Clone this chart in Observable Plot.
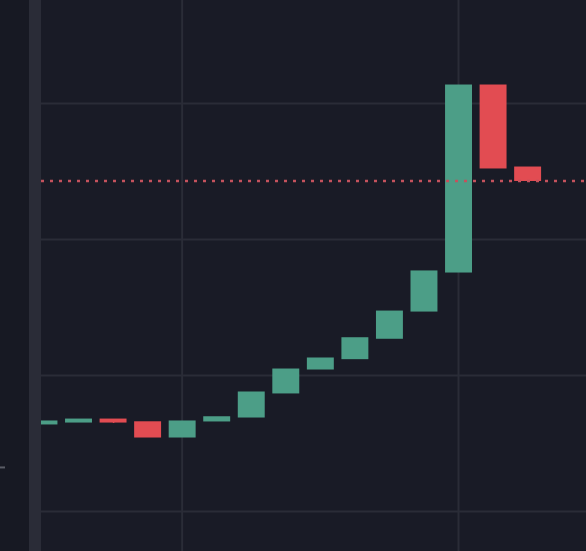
<!DOCTYPE html>
<html>
<head>
<meta charset="utf-8">
<script src="https://cdn.jsdelivr.net/npm/d3@7"></script>
<script src="https://cdn.jsdelivr.net/npm/@observablehq/plot@0.6"></script>
<style>
  html, body { margin: 0; padding: 0; background: #191b26; }
  #chart svg { display: block; }
</style>
</head>
<body>
<div id="chart"></div>
<script>
// Bar index (time), opens, closes of each candle body
const bars = [0, 1, 2, 3, 4, 5, 6, 7, 8, 9, 10, 11, 12, 13, 14];
const opens  = [64.0, 65.4, 67.6, 65.6, 54.4, 66.2, 69.1, 86.8, 104.4, 112.0, 127.0, 147.0, 175.7, 313.2, 252.9];
const closes = [66.2, 67.6, 65.4, 54.4, 66.2, 69.3, 87.5, 104.4, 112.5, 127.4, 147.0, 176.5, 313.2, 252.2, 243.0];
const lows   = [64.0, 65.4, 64.7, 54.4, 54.4, 66.2, 69.1, 86.8, 104.4, 112.0, 127.0, 147.0, 175.7, 252.2, 243.0];
// grid values
const priceGrid = [0, 100, 200, 300];
const timeGrid = [4, 12];
const lastPrice = closes[closes.length - 1];

const candles = bars.map((b, i) => ({
  t: b, open: opens[i], close: closes[i], low: lows[i],
  up: closes[i] >= opens[i]
}));

const halfW = 0.39;
const green = "#4c9e87", red = "#e24c52";

const chart = Plot.plot({
  width: 586,
  height: 551,
  marginLeft: 41, marginRight: 0, marginTop: 0, marginBottom: 0,
  style: { background: "linear-gradient(to right, #171923 0px, #171923 29px, #2a2c37 29px, #2a2c37 41px, #191b26 41px, #191b26 586px)" },
  x: { type: "linear", domain: [-0.086, 15.69], axis: null },
  y: { domain: [-29.4, 375.7], axis: null },
  marks: [
    Plot.ruleY(priceGrid, { x1: -0.086, x2: 15.69, stroke: "#2a2c37", strokeWidth: 2 }),
    Plot.ruleX(timeGrid, { y1: -29.4, y2: 375.7, stroke: "#2a2c37", strokeWidth: 2, dx: -0.5 }),
    Plot.ruleX(candles, { x: "t", y1: "low", y2: d => Math.min(d.open, d.close), stroke: d => d.up ? green : red, strokeWidth: 1.5 }),
    Plot.rect(candles, {
      x1: d => d.t - halfW, x2: d => d.t + halfW,
      y1: "open", y2: "close",
      fill: d => d.up ? green : red,
      insetTop: -0.5, insetBottom: -0.5,
      clip: true
    }),
    Plot.ruleY([lastPrice], { x1: -0.086, x2: 15.69, stroke: "#c4525d", strokeWidth: 2.5, strokeDasharray: "3,6" }),
    Plot.ruleY([32.4], { x1: -1.273, x2: -1.128, stroke: "#5a5c66", strokeWidth: 2 })
  ]
});
document.getElementById("chart").appendChild(chart);
</script>
</body>
</html>
